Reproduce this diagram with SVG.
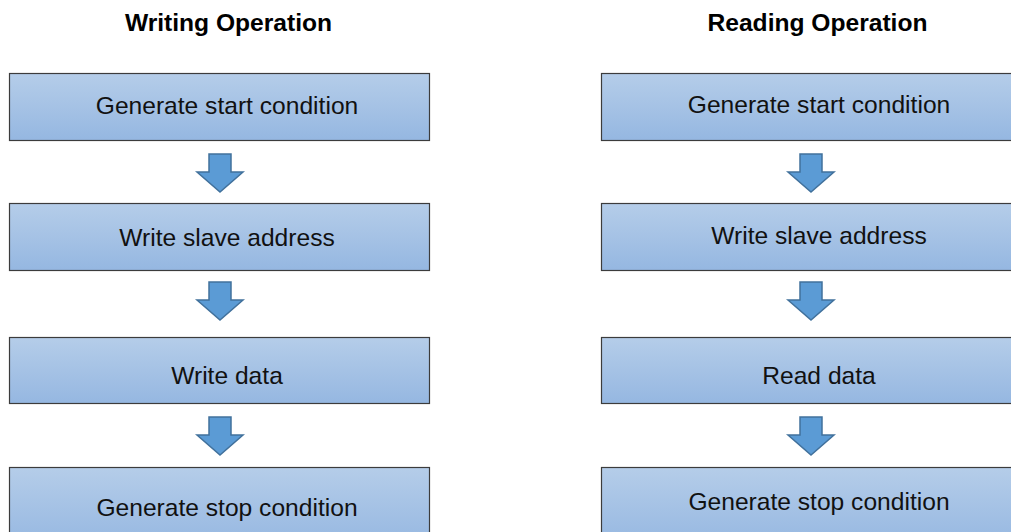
<svg xmlns="http://www.w3.org/2000/svg" width="1011" height="532" viewBox="0 0 1011 532">
<defs>
<linearGradient id="g" x1="0" y1="0" x2="0" y2="1">
<stop offset="0" stop-color="#b5cde9"/>
<stop offset="1" stop-color="#95b7e1"/>
</linearGradient>
<path id="arr" d="M-11,0 H11 V18 H23 L0,38 L-23,18 H-11 Z"/>
</defs>
<style>
.box{fill:url(#g);stroke:#3c3c3c;stroke-width:1.2}
.lbl{font-family:"Liberation Sans",Arial,sans-serif;font-size:24.6px;fill:#111;text-anchor:middle}
.ttl{font-family:"Liberation Sans",Arial,sans-serif;font-size:24.6px;font-weight:bold;fill:#000;text-anchor:middle}
.a{fill:#5b9bd5;stroke:#41719c;stroke-width:1.5;stroke-linejoin:miter}
</style>
<rect width="1011" height="532" fill="#fff"/>
<text class="ttl" x="228.5" y="31">Writing Operation</text>
<text class="ttl" x="817.5" y="31">Reading Operation</text>

<g id="w1"><rect class="box" x="9.5" y="73.5" width="420" height="67"/><text class="lbl" x="227" y="114">Generate start condition</text></g>
<g id="w2"><rect class="box" x="9.5" y="203.5" width="420" height="67"/><text class="lbl" x="227" y="246">Write slave address</text></g>
<g id="w3"><rect class="box" x="9.5" y="337.5" width="420" height="66"/><text class="lbl" x="227" y="384">Write data</text></g>
<g id="w4"><rect class="box" x="9.5" y="467.5" width="420" height="80"/><text class="lbl" x="227" y="516">Generate stop condition</text></g>

<g id="r1"><rect class="box" x="601.5" y="73.5" width="420" height="67"/><text class="lbl" x="819" y="113">Generate start condition</text></g>
<g id="r2"><rect class="box" x="601.5" y="203.5" width="420" height="67"/><text class="lbl" x="819" y="244">Write slave address</text></g>
<g id="r3"><rect class="box" x="601.5" y="337.5" width="420" height="66"/><text class="lbl" x="819" y="384">Read data</text></g>
<g id="r4"><rect class="box" x="601.5" y="467.5" width="420" height="80"/><text class="lbl" x="819" y="510">Generate stop condition</text></g>

<g id="connectors">
<use href="#arr" class="a" x="220" y="154"/>
<use href="#arr" class="a" x="220" y="282"/>
<use href="#arr" class="a" x="220" y="417"/>
<use href="#arr" class="a" x="811" y="154"/>
<use href="#arr" class="a" x="811" y="282"/>
<use href="#arr" class="a" x="811" y="417"/>
</g>
</svg>
